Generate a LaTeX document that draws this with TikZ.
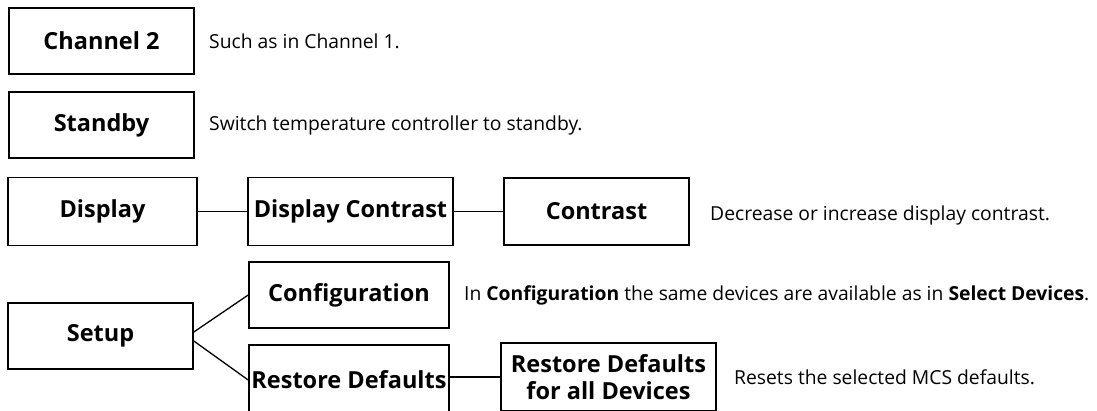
\documentclass[tikz,border=0pt]{standalone}
\usepackage{fontspec}
\setmainfont{Open Sans}
\begin{document}
\begin{tikzpicture}[x=1pt,y=-1pt,
  box/.style={draw=black, line width=1.6pt, inner sep=0pt, align=center,
    font=\fontsize{23.5}{26.5}\selectfont\bfseries},
  link/.style={draw=black, line width=1.3pt},
  desc/.style={anchor=west, inner sep=0pt, font=\fontsize{19.3}{21}\selectfont}]
\useasboundingbox (0,0) rectangle (1097,410);
\clip (0,0) rectangle (1097,410);
\node[box, minimum width=185pt, minimum height=66pt] (ch2) at (101.5,41) {Channel 2};
\node[box, minimum width=185pt, minimum height=66pt] (stb) at (101.5,125) {Standby};
\node[box, minimum width=189pt, minimum height=68pt] (disp) at (102.5,211.5) {Display};
\node[box, minimum width=205pt, minimum height=68pt] (dc) at (350.5,211.5) {Display Contrast};
\node[box, minimum width=185pt, minimum height=67pt] (con) at (596.5,211.5) {Contrast};
\node[box, minimum width=185pt, minimum height=66pt] (setup) at (100.5,336) {Setup};
\node[box, minimum width=200pt, minimum height=66pt] (conf) at (349,295) {Configuration};
\node[box, minimum width=200pt, minimum height=70pt] (rd) at (349,380) {Restore Defaults};
\node[box, minimum width=215pt, minimum height=68pt] (rdfa) at (608.5,377) {Restore Defaults\\for all Devices};

\node[desc] (t1) at (209,41) {Such as in Channel 1.};
\node[desc] (t2) at (209,125) {Switch temperature controller to standby.};
\node[desc] (t3) at (710,215) {Decrease or increase display contrast.};
\node[desc] (t4) at (464,295) {In \textbf{Configuration} the same devices are available as in \textbf{Select Devices}.};
\node[desc] (t5) at (734,377) {Resets the selected MCS defaults.};

\draw[link] (disp.east) -- (dc.west);
\draw[link] (dc.east) -- (con.west);
\draw[link] ([yshift=4pt]setup.east) -- (conf.west);
\draw[link] ([yshift=-5pt]setup.east) -- (rd.west);
\draw[link] ([yshift=3pt]rd.east) -- (rdfa.west);
\end{tikzpicture}
\end{document}
